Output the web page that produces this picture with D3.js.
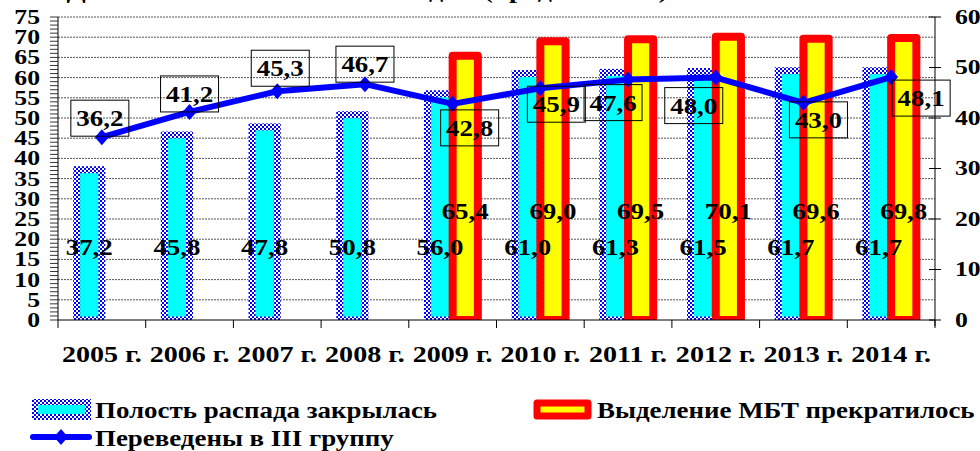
<!DOCTYPE html>
<html>
<head>
<meta charset="utf-8">
<script src="https://cdn.jsdelivr.net/npm/d3@7"></script>
<style>
  body { margin: 0; background: #fff; }
  svg text { transform-box: fill-box; transform: scaleX(1.17); transform-origin: center; }
  svg text.al { transform-origin: left center; }
  svg text.ar { transform-origin: right center; }
</style>
</head>
<body>
<div id="chart"></div>
<script>
// data
const years = ["2005 г.", "2006 г.", "2007 г.", "2008 г.", "2009 г.", "2010 г.", "2011 г.", "2012 г.", "2013 г.", "2014 г."];
const cavityClosed = [37.2, 45.8, 47.8, 50.8, 56.0, 61.0, 61.3, 61.5, 61.7, 61.7];
const mbtStopped = [null, null, null, null, 65.4, 69.0, 69.5, 70.1, 69.6, 69.8];
const groupIII = [36.2, 41.2, 45.3, 46.7, 42.8, 45.9, 47.6, 48.0, 43.0, 48.1];
const leftTicks = d3.range(0, 80, 5);
const rightTicks = d3.range(0, 70, 10);
const seriesNames = ["Полость распада закрылась", "Выделение МБТ прекратилось", "Переведены в III группу"];
const titleText = "Динамика показателей по годам (продолжение)";

// where each line label box sits relative to its point (px)
const boxShift = [[-2, -19], [0, -18], [3, -23], [0, -20], [17, 24], [16, 16], [-15, 23], [-22, 28], [15, 17], [30, 21]];

const W = 980, H = 451;
const plot = {left: 58, right: 935, top: 17, bottom: 320};
const FONT = "'Liberation Serif', 'Times New Roman', 'DejaVu Serif', serif";

const svg = d3.select("#chart").append("svg").attr("width", W).attr("height", H)
    .attr("font-family", FONT).attr("font-weight", "bold");
const defs = svg.append("defs");

const checker = defs.append("pattern").attr("id", "checker")
    .attr("patternUnits", "userSpaceOnUse").attr("width", 4).attr("height", 4);
checker.append("rect").attr("width", 4).attr("height", 4).attr("fill", "#fff");
checker.append("rect").attr("width", 2).attr("height", 2).attr("fill", "#0000ff");
checker.append("rect").attr("x", 2).attr("y", 2).attr("width", 2).attr("height", 2).attr("fill", "#0000ff");

defs.append("clipPath").attr("id", "plotclip").append("rect")
    .attr("x", 0).attr("y", 0).attr("width", W).attr("height", plot.bottom);

const fmt = v => d3.format(".1f")(v).replace(".", ",");

function txt(sel, size) {
    return sel.attr("font-family", FONT).attr("font-weight", "bold")
        .attr("font-size", size).attr("fill", "#000");
}

const x = d3.scaleBand().domain(years).range([plot.left, plot.right]).padding(0);
const inner = d3.scaleBand().domain(["cav", "mbt"]).range([0, x.bandwidth()])
    .paddingInner(0).paddingOuter(0.74);
const yL = d3.scaleLinear().domain([0, 75]).range([plot.bottom, plot.top]);
const yR = d3.scaleLinear().domain([0, 60]).range([plot.bottom, plot.top]);

// title, mostly cut off at the top
txt(svg.append("text"), 24).attr("x", 668).attr("y", -2).attr("text-anchor", "end")
    .attr("class", "ar").text(titleText);

// gridlines
svg.append("g").selectAll("line").data(leftTicks.filter(d => d > 0)).join("line")
    .attr("x1", plot.left).attr("x2", plot.right)
    .attr("y1", d => yL(d)).attr("y2", d => yL(d))
    .attr("stroke", "#555").attr("stroke-width", 1).attr("stroke-dasharray", "2,1");

const bars = svg.append("g").attr("clip-path", "url(#plotclip)");

bars.selectAll(".cav").data(cavityClosed).join("rect").attr("class", "cav")
    .attr("x", (d, i) => x(years[i]) + inner("cav"))
    .attr("y", d => yL(d))
    .attr("width", inner.bandwidth())
    .attr("height", d => yL(0) - yL(d))
    .attr("fill", "#00ffff")
    .attr("stroke", "url(#checker)")
    .attr("stroke-width", 7);

const mbtData = mbtStopped.map((v, i) => ({v, i})).filter(d => d.v != null);

bars.selectAll(".mbt").data(mbtData).join("rect").attr("class", "mbt")
    .attr("x", d => x(years[d.i]) + inner("mbt"))
    .attr("y", d => yL(d.v))
    .attr("width", inner.bandwidth())
    .attr("height", d => yL(0) - yL(d.v))
    .attr("fill", "#ffff00")
    .attr("stroke", "#ff0000")
    .attr("stroke-width", 8)
    .attr("stroke-linejoin", "round");

// line series on the right axis
const cx = i => x(years[i]) + x.bandwidth() / 2;
const line = d3.line().x((d, i) => cx(i)).y(d => yR(d));
svg.append("path").datum(groupIII).attr("d", line)
    .attr("fill", "none").attr("stroke", "#0000ff").attr("stroke-width", 6)
    .attr("stroke-linejoin", "round");

const diamond = "M0,-8L7,0L0,8L-7,0Z";
svg.append("g").selectAll("path").data(groupIII).join("path")
    .attr("d", diamond)
    .attr("transform", (d, i) => `translate(${cx(i)},${yR(d)})`)
    .attr("fill", "#0000ff");

// bar labels
txt(svg.append("g").selectAll("text").data(cavityClosed).join("text"), 23)
    .attr("x", (d, i) => x(years[i]) + inner("cav") + inner.bandwidth() / 2)
    .attr("y", yL(18) + 8)
    .attr("text-anchor", "middle")
    .text(d => fmt(d));

txt(svg.append("g").selectAll("text").data(mbtData).join("text"), 23)
    .attr("x", d => x(years[d.i]) + inner("mbt") + inner.bandwidth() / 2)
    .attr("y", yL(27) + 8)
    .attr("text-anchor", "middle")
    .text(d => fmt(d.v));

// line labels in boxes
const boxW = 58, boxH = 36;
const lbl = svg.append("g").selectAll("g").data(groupIII).join("g")
    .attr("transform", (d, i) => `translate(${cx(i) + boxShift[i][0]},${yR(d) + boxShift[i][1]})`);
lbl.append("rect").attr("x", -boxW / 2).attr("y", -boxH / 2)
    .attr("width", boxW).attr("height", boxH)
    .attr("fill", "none").attr("stroke", "#000").attr("stroke-width", 1);
txt(lbl.append("text"), 23).attr("y", 8).attr("text-anchor", "middle")
    .text(d => fmt(d));

// left axis
const ax = svg.append("g");
ax.append("line").attr("x1", plot.left).attr("x2", plot.left)
    .attr("y1", plot.top).attr("y2", plot.bottom).attr("stroke", "#000");
ax.selectAll(".minor").data(d3.range(0, 76, 1)).join("line").attr("class", "minor")
    .attr("x1", plot.left - 8).attr("x2", plot.left)
    .attr("y1", d => yL(d)).attr("y2", d => yL(d))
    .attr("stroke", "#000").attr("stroke-width", 0.8);
txt(ax.selectAll("text").data(leftTicks).join("text"), 22)
    .attr("x", 40).attr("y", d => yL(d) + 7)
    .attr("text-anchor", "end").attr("class", "ar")
    .text(d => d);

// right axis
const arx = svg.append("g");
arx.append("line").attr("x1", plot.right).attr("x2", plot.right)
    .attr("y1", plot.top).attr("y2", plot.bottom + 6).attr("stroke", "#000");
arx.selectAll("line.t").data(rightTicks).join("line").attr("class", "t")
    .attr("x1", plot.right - 6).attr("x2", plot.right + 6)
    .attr("y1", d => yR(d)).attr("y2", d => yR(d))
    .attr("stroke", "#000");
txt(arx.selectAll("text").data(rightTicks).join("text"), 22)
    .attr("x", 955).attr("y", d => yR(d) + 7).attr("class", "al")
    .text(d => d);

// x axis
const axb = svg.append("g");
axb.append("line").attr("x1", plot.left).attr("x2", plot.right)
    .attr("y1", plot.bottom).attr("y2", plot.bottom).attr("stroke", "#000");
axb.selectAll("line.t").data(years.concat([null])).join("line").attr("class", "t")
    .attr("x1", (d, i) => plot.left + i * x.step()).attr("x2", (d, i) => plot.left + i * x.step())
    .attr("y1", plot.bottom).attr("y2", plot.bottom + 8)
    .attr("stroke", "#000");
txt(axb.selectAll("text").data(years).join("text"), 24)
    .attr("x", d => x(d) + x.bandwidth() / 2).attr("y", 362)
    .attr("text-anchor", "middle")
    .text(d => d);

// legend
const lg = svg.append("g");
lg.append("rect").attr("x", 35).attr("y", 402).attr("width", 53).attr("height", 15)
    .attr("fill", "#00ffff").attr("stroke", "url(#checker)").attr("stroke-width", 6);
txt(lg.append("text"), 23).attr("x", 95).attr("y", 418).attr("class", "al").text(seriesNames[0]);

lg.append("rect").attr("x", 537).attr("y", 403).attr("width", 51).attr("height", 13)
    .attr("fill", "#ffff00").attr("stroke", "#ff0000").attr("stroke-width", 7)
    .attr("stroke-linejoin", "round");
txt(lg.append("text"), 23).attr("x", 597).attr("y", 418).attr("class", "al").text(seriesNames[1]);

lg.append("line").attr("x1", 33).attr("x2", 89).attr("y1", 437).attr("y2", 437)
    .attr("stroke", "#0000ff").attr("stroke-width", 6).attr("stroke-linecap", "round");
lg.append("path").attr("d", diamond).attr("transform", "translate(61,437)").attr("fill", "#0000ff");
txt(lg.append("text"), 23).attr("x", 95).attr("y", 446).attr("class", "al").text(seriesNames[2]);
</script>
</body>
</html>
